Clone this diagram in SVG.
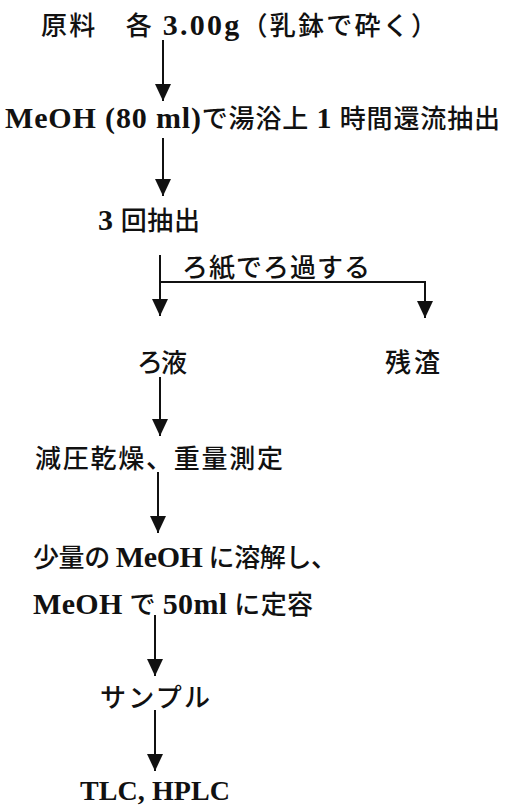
<svg xmlns="http://www.w3.org/2000/svg" width="505" height="806" viewBox="0 0 505 806">
<style>
text{font-family:"Liberation Serif","Noto Sans CJK JP",serif;font-size:26px;fill:#111;font-weight:500}
.b{font-weight:bold;font-size:30px}
.c{stroke:#111;stroke-width:2;fill:none}
</style>
<defs>
<marker id="ah" viewBox="0 -8 17 16" refX="17" refY="0" markerWidth="17" markerHeight="16" markerUnits="userSpaceOnUse" orient="auto">
<path d="M0,-8 L17,0 L0,8 z" fill="#111"/>
</marker>
</defs>
<rect width="505" height="806" fill="#fff"/>
<g id="connectors">
<line class="c" x1="163" y1="40" x2="163" y2="101" marker-end="url(#ah)"/>
<line class="c" x1="163" y1="138" x2="163" y2="196" marker-end="url(#ah)"/>
<line class="c" x1="160" y1="255" x2="160" y2="316" marker-end="url(#ah)"/>
<polyline class="c" points="160,282 425,282 425,318" marker-end="url(#ah)"/>
<line class="c" x1="160" y1="377" x2="160" y2="436" marker-end="url(#ah)"/>
<line class="c" x1="158" y1="472" x2="158" y2="533" marker-end="url(#ah)"/>
<line class="c" x1="155" y1="615" x2="155" y2="676" marker-end="url(#ah)"/>
<line class="c" x1="155" y1="710" x2="155" y2="771" marker-end="url(#ah)"/>
</g>
<g id="n1"><text x="41" y="35" textLength="396" lengthAdjust="spacing">原料　各 <tspan class="b">3.00g</tspan>（乳鉢で砕く）</text></g>
<g id="n2"><text x="5" y="128" textLength="495" lengthAdjust="spacing"><tspan class="b">MeOH (80 ml)</tspan>で湯浴上 <tspan class="b">1</tspan> 時間還流抽出</text></g>
<g id="n3"><text x="98" y="230" textLength="102" lengthAdjust="spacing"><tspan class="b">3</tspan> 回抽出</text></g>
<g id="filter-label"><text x="182" y="277" textLength="188" lengthAdjust="spacing">ろ紙でろ過する</text></g>
<g id="n4"><text x="137" y="372" textLength="50" lengthAdjust="spacing">ろ液</text></g>
<g id="n5"><text x="385" y="372" textLength="55" lengthAdjust="spacing">残渣</text></g>
<g id="n6"><text x="35" y="468" textLength="248" lengthAdjust="spacing">減圧乾燥、重量測定</text></g>
<g id="n7">
<text x="33" y="567" textLength="304" lengthAdjust="spacing">少量の <tspan class="b">MeOH</tspan> に溶解し、</text>
<text x="33" y="614" textLength="280" lengthAdjust="spacing"><tspan class="b">MeOH</tspan> で <tspan class="b">50ml</tspan> に定容</text>
</g>
<g id="n8"><text x="100" y="707" textLength="110" lengthAdjust="spacing">サンプル</text></g>
<g id="n9"><text x="80" y="800" textLength="150" lengthAdjust="spacing" class="b" style="font-size:28px">TLC, HPLC</text></g>
</svg>
